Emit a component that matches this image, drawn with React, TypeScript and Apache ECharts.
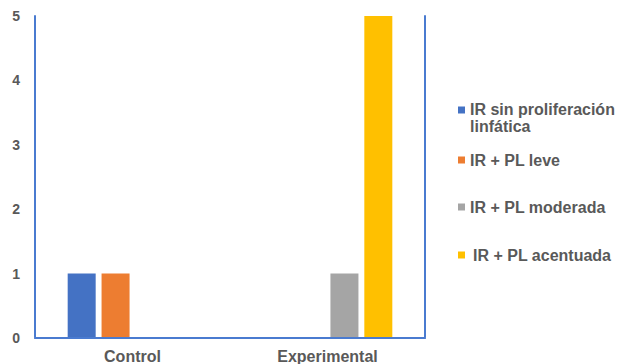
import React, { useEffect, useRef } from "react";
import * as echarts from "echarts";

const categories = ["Control", "Experimental"];
const seriesNames = [
  "IR sin proliferación linfática",
  "IR + PL leve",
  "IR + PL moderada",
  "IR + PL acentuada",
];
const sinProliferacion = [1, 0];
const plLeve = [1, 0];
const plModerada = [0, 1];
const plAcentuada = [0, 5];
const yTicks = [0, 1, 2, 3, 4, 5];

const colors = ["#4472C4", "#ED7D31", "#A5A5A5", "#FFC000"];
const FONT = 'Arial, "Liberation Sans", sans-serif';
const TEXT = "#595959";
const FRAME = "#4a7bd0";

export default function App() {
  const ref = useRef<HTMLDivElement>(null);

  useEffect(() => {
    if (!ref.current) return;
    const chart = echarts.init(ref.current, null, { renderer: "svg" });
    const values = [sinProliferacion, plLeve, plModerada, plAcentuada];

    const legendText = {
      fontFamily: FONT,
      fontSize: 16,
      fontWeight: "bold" as const,
      color: TEXT,
      lineHeight: 17,
    };
    const legendTops = [101, 151.5, 198.5, 246.5];
    const legends = seriesNames.map((name, i) => ({
      show: true,
      orient: "vertical" as const,
      left: 458,
      top: legendTops[i],
      padding: 0,
      itemWidth: 7,
      itemHeight: i === 0 ? 23 : 7,
      // the first entry wraps onto two lines; its square sits beside the first line
      icon: i === 0 ? "path://M0,0h7v7h-7zM0,23" : "rect",
      data: [name],
      formatter: (n: string) =>
        n === seriesNames[0] ? "IR sin proliferación\nlinfática" : n,
      textStyle: i === 3 ? { ...legendText, padding: [0, 0, 0, 3] } : legendText,
      selectedMode: false,
    }));

    chart.setOption({
      animation: false,
      backgroundColor: "#ffffff",
      grid: { left: 35, right: 195, top: 16, bottom: 26, containLabel: false },
      legend: legends,
      xAxis: [
        {
          type: "category",
          data: categories,
          position: "bottom",
          axisLine: { show: true, lineStyle: { color: "#d9d9d9", width: 1.5 } },
          axisTick: { show: false },
          axisLabel: {
            margin: 10,
            fontFamily: FONT,
            fontSize: 16,
            fontWeight: "bold",
            color: TEXT,
          },
          splitLine: { show: false },
          z: 10,
        },
        {
          type: "category",
          data: categories,
          position: "top",
          axisLine: { show: true, lineStyle: { color: FRAME, width: 2 } },
          axisTick: { show: false },
          axisLabel: { show: false },
          splitLine: { show: false },
          z: 10,
        },
      ],
      yAxis: [
        {
          type: "value",
          min: 0,
          max: 5,
          interval: 1,
          position: "left",
          axisLine: { show: true, lineStyle: { color: FRAME, width: 2 } },
          axisTick: { show: false },
          splitLine: { show: false },
          axisLabel: {
            margin: 15,
            fontFamily: FONT,
            fontSize: 14,
            fontWeight: "bold",
            color: TEXT,
            formatter: (v: number) => (yTicks.includes(v) ? String(v) : ""),
          },
          z: 10,
        },
        {
          type: "value",
          min: 0,
          max: 5,
          interval: 1,
          position: "right",
          axisLine: { show: true, lineStyle: { color: FRAME, width: 2 } },
          axisTick: { show: false },
          splitLine: { show: false },
          axisLabel: { show: false },
          z: 10,
        },
      ],
      series: seriesNames.map((name, i) => ({
        name,
        type: "bar",
        xAxisIndex: 0,
        yAxisIndex: 0,
        data: values[i],
        barWidth: 28,
        barGap: "21%",
        itemStyle: { color: colors[i] },
        emphasis: { disabled: true },
      })),
    });

    return () => chart.dispose();
  }, []);

  return (
    <div
      ref={ref}
      style={{ position: "fixed", left: 0, top: 0, width: 620, height: 364, background: "#fff" }}
    />
  );
}
